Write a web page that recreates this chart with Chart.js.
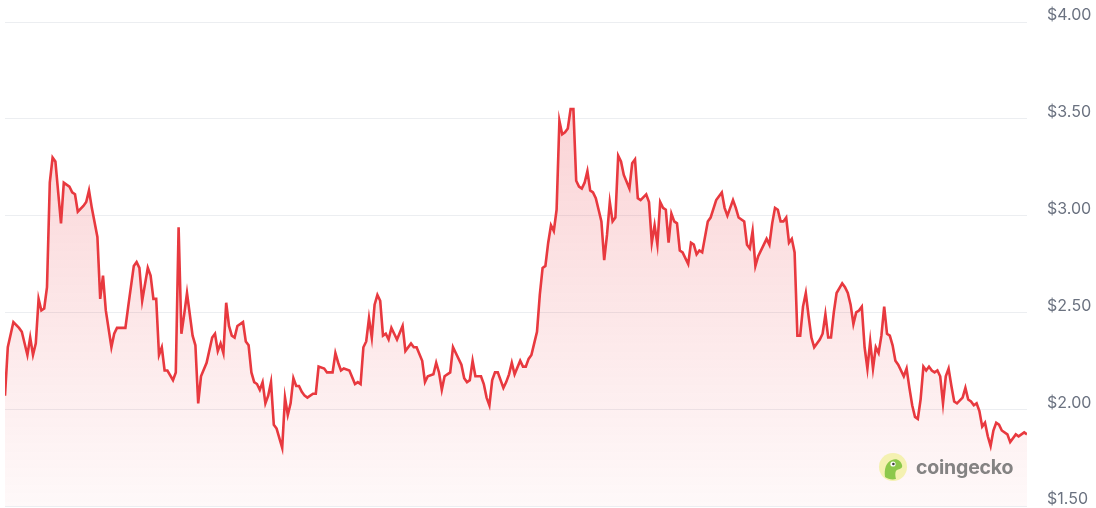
<!DOCTYPE html>
<html>
<head>
<meta charset="utf-8">
<title>Price chart</title>
<script src="https://cdn.jsdelivr.net/npm/chart.js@4.4.1/dist/chart.umd.min.js"></script>
<style>
  html, body { margin: 0; padding: 0; background: #fff; }
  #wrap { position: relative; width: 1096px; height: 508px; }
  #watermark {
    position: absolute; left: 878px; top: 452px;
    display: flex; align-items: center; gap: 8px;
    font-family: Inter, "Noto Sans", sans-serif; font-weight: 700;
    font-size: 19.5px; color: rgba(110, 110, 110, 0.85); letter-spacing: -0.2px;
  }
</style>
</head>
<body>
<div id="wrap">
  <canvas id="priceChart"></canvas>
  <div id="watermark">
    <svg width="30" height="30" viewBox="0 0 30 30">
      <circle cx="15" cy="15" r="14" fill="#f2f0a4" opacity="0.85"/>
      <path d="M7 25 C6 17 8 10 14 8 C19 6 23 9 24 13 C25 16 22 17 19 18 C17 19 17 23 18 27 C14 28 10 27 7 25 Z" fill="#8cc84b"/>
      <circle cx="15" cy="12" r="2.6" fill="#fff"/>
      <circle cx="15.4" cy="12" r="1.3" fill="#3b3b3b"/>
    </svg>
    <span>coingecko</span>
  </div>
</div>
<script>
// Day offsets across the one-year window and the closing price
const days = [
  0, 1, 3, 5, 6, 8, 9, 10, 11, 12, 13, 14, 15, 16, 17, 18, 20, 21, 23, 24,
  25, 26, 28, 29, 30, 31, 33, 34, 35, 36, 38, 39, 40, 41, 43, 44, 46, 47, 48, 49,
  51, 52, 53, 54, 55, 56, 57, 58, 60, 61, 62, 63, 64, 65, 67, 68, 69, 70, 72, 74,
  75, 76, 77, 78, 79, 80, 81, 82, 83, 85, 86, 87, 88, 89, 90, 91, 92, 93, 94, 95,
  96, 97, 99, 100, 101, 102, 103, 104, 105, 106, 107, 108, 110, 111, 112, 114, 115, 117, 118, 119,
  120, 121, 123, 125, 126, 127, 128, 129, 130, 131, 132, 133, 134, 135, 136, 137, 138, 139, 140, 142,
  143, 145, 146, 147, 149, 150, 151, 153, 154, 155, 156, 157, 159, 160, 161, 163, 164, 165, 166, 167,
  168, 170, 171, 172, 173, 174, 175, 176, 178, 179, 180, 181, 182, 184, 185, 186, 187, 188, 189, 190,
  191, 192, 193, 194, 195, 196, 197, 198, 199, 200, 201, 202, 203, 204, 205, 206, 207, 208, 209, 210,
  211, 212, 213, 214, 215, 216, 217, 218, 219, 220, 221, 223, 224, 225, 226, 227, 229, 230, 231, 232,
  233, 234, 235, 236, 237, 238, 239, 240, 241, 242, 244, 245, 246, 247, 248, 249, 251, 252, 254, 256,
  257, 258, 259, 260, 261, 262, 264, 265, 266, 267, 268, 269, 271, 272, 273, 274, 275, 276, 277, 278,
  279, 280, 281, 282, 283, 284, 285, 286, 287, 288, 289, 291, 292, 293, 294, 295, 296, 297, 299, 300,
  301, 302, 303, 304, 305, 306, 307, 308, 309, 310, 311, 312, 313, 314, 315, 316, 317, 318, 319, 321,
  322, 323, 324, 325, 326, 327, 328, 329, 330, 331, 332, 333, 334, 335, 336, 337, 338, 339, 340, 342,
  343, 344, 345, 346, 347, 348, 349, 350, 351, 352, 353, 354, 355, 356, 358, 359, 360, 361, 362, 363,
  364, 365
];
const prices = [
  2.07, 2.32, 2.45, 2.42, 2.40, 2.28, 2.37, 2.28, 2.34, 2.57, 2.51, 2.52, 2.63, 3.17, 3.30, 3.28, 2.96, 3.17, 3.15, 3.12,
  3.11, 3.02, 3.05, 3.07, 3.13, 3.04, 2.89, 2.57, 2.69, 2.51, 2.32, 2.39, 2.42, 2.42, 2.42, 2.53, 2.74, 2.76, 2.73, 2.56,
  2.73, 2.69, 2.57, 2.57, 2.28, 2.32, 2.20, 2.20, 2.15, 2.19, 2.94, 2.39, 2.49, 2.60, 2.38, 2.33, 2.03, 2.17, 2.24, 2.37,
  2.39, 2.30, 2.34, 2.29, 2.55, 2.43, 2.38, 2.37, 2.43, 2.45, 2.35, 2.33, 2.19, 2.14, 2.13, 2.10, 2.14, 2.03, 2.07, 2.14,
  1.92, 1.90, 1.80, 2.06, 1.97, 2.03, 2.16, 2.12, 2.12, 2.09, 2.07, 2.06, 2.08, 2.08, 2.22, 2.21, 2.19, 2.19, 2.29, 2.24,
  2.20, 2.21, 2.20, 2.13, 2.14, 2.13, 2.32, 2.35, 2.47, 2.37, 2.54, 2.59, 2.56, 2.38, 2.39, 2.36, 2.42, 2.39, 2.36, 2.43,
  2.30, 2.34, 2.32, 2.32, 2.25, 2.14, 2.17, 2.18, 2.24, 2.19, 2.10, 2.17, 2.19, 2.32, 2.29, 2.23, 2.16, 2.14, 2.15, 2.25,
  2.17, 2.17, 2.13, 2.06, 2.02, 2.15, 2.19, 2.19, 2.11, 2.14, 2.18, 2.24, 2.18, 2.25, 2.22, 2.22, 2.26, 2.28, 2.34, 2.40,
  2.59, 2.73, 2.74, 2.86, 2.95, 2.92, 3.03, 3.49, 3.42, 3.43, 3.45, 3.55, 3.55, 3.18, 3.15, 3.14, 3.17, 3.23, 3.13, 3.12,
  3.09, 3.03, 2.97, 2.77, 2.90, 3.07, 2.97, 2.99, 3.31, 3.28, 3.21, 3.14, 3.27, 3.29, 3.09, 3.08, 3.11, 3.07, 2.86, 2.95,
  2.85, 3.07, 3.04, 3.03, 2.86, 3.01, 2.97, 2.96, 2.82, 2.81, 2.75, 2.86, 2.85, 2.80, 2.82, 2.81, 2.97, 2.99, 3.08, 3.12,
  3.04, 3.00, 3.04, 3.08, 3.04, 2.99, 2.97, 2.85, 2.83, 2.92, 2.74, 2.79, 2.85, 2.88, 2.85, 2.96, 3.04, 3.03, 2.97, 2.97,
  2.99, 2.86, 2.88, 2.81, 2.38, 2.38, 2.53, 2.60, 2.48, 2.37, 2.32, 2.36, 2.39, 2.49, 2.37, 2.37, 2.50, 2.60, 2.65, 2.63,
  2.60, 2.54, 2.44, 2.50, 2.51, 2.53, 2.32, 2.21, 2.35, 2.21, 2.32, 2.29, 2.38, 2.53, 2.39, 2.38, 2.33, 2.25, 2.23, 2.17,
  2.21, 2.11, 2.02, 1.96, 1.95, 2.05, 2.22, 2.20, 2.22, 2.20, 2.19, 2.20, 2.17, 2.03, 2.17, 2.21, 2.12, 2.04, 2.03, 2.06,
  2.11, 2.05, 2.04, 2.02, 2.03, 1.99, 1.91, 1.93, 1.86, 1.81, 1.89, 1.93, 1.92, 1.89, 1.87, 1.83, 1.85, 1.87, 1.86, 1.87,
  1.88, 1.87
];
// Right-hand price ticks
const priceTicks = [1.5, 2.0, 2.5, 3.0, 3.5, 4.0];

const lineRed = '#e8393f';

const points = days.map((d, i) => ({ x: d, y: prices[i] }));

function fillGradient(context) {
  const chart = context.chart;
  const area = chart.chartArea;
  if (!area) return 'rgba(234, 57, 67, 0.12)';
  const g = chart.ctx.createLinearGradient(0, area.top, 0, area.bottom);
  g.addColorStop(0, 'rgba(234, 57, 67, 0.26)');
  g.addColorStop(1, 'rgba(234, 57, 67, 0.03)');
  return g;
}

new Chart(document.getElementById('priceChart'), {
  type: 'line',
  data: {
    datasets: [{
      data: points,
      borderColor: lineRed,
      borderWidth: 2.6,
      backgroundColor: fillGradient,
      fill: 'start',
      pointRadius: 0,
      tension: 0
    }]
  },
  options: {
    responsive: true,
    maintainAspectRatio: false,
    animation: false,
    events: [],
    layout: { padding: { top: 22, bottom: 2, left: 5, right: 4 } },
    plugins: { legend: { display: false }, tooltip: { enabled: false } },
    scales: {
      x: {
        type: 'linear',
        min: days[0],
        max: days[days.length - 1],
        display: false
      },
      y: {
        position: 'right',
        min: priceTicks[0],
        max: priceTicks[priceTicks.length - 1],
        afterBuildTicks: axis => { axis.ticks = priceTicks.map(v => ({ value: v })); },
        afterFit: axis => { axis.paddingTop = 0; axis.paddingBottom = 0; axis.width = 65; },
        border: { display: false },
        grid: { color: '#eceef1', lineWidth: 1, drawTicks: false },
        ticks: {
          padding: 20,
          color: '#6b7280',
          font: { family: 'Inter, "Noto Sans", sans-serif', size: 16, lineHeight: '13px' },
          // second empty line lifts the label slightly above its grid line
          callback: v => ['$' + Number(v).toFixed(2), '']
        }
      }
    }
  }
});
</script>
</body>
</html>
